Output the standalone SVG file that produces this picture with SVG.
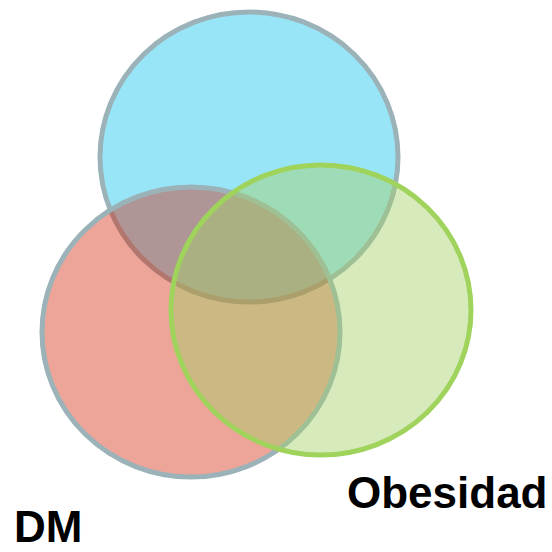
<svg xmlns="http://www.w3.org/2000/svg" width="552" height="552" viewBox="0 0 552 552">
<style>
.c{stroke-width:5}
.gray{stroke:#9BB3B8}
.lbl{font-family:"Liberation Sans",Arial,sans-serif;font-weight:bold;font-size:44px;fill:#000}
</style>
<rect width="552" height="552" fill="#fff"/>
<g id="blue"><ellipse class="c gray" cx="249" cy="157" rx="149" ry="145" fill="#98E5F8"/></g>
<g id="red"><ellipse class="c gray" cx="191" cy="332" rx="149" ry="145" fill="rgb(210,30,3)" fill-opacity="0.4"/></g>
<g id="green"><ellipse class="c" cx="321" cy="310" rx="150" ry="145" fill="rgb(164,209,104)" fill-opacity="0.45" stroke="#9FD35C"/></g>
<g id="labels">
<text class="lbl" x="14" y="542">DM</text>
<text class="lbl" x="347" y="508">Obesidad</text>
</g>
</svg>
